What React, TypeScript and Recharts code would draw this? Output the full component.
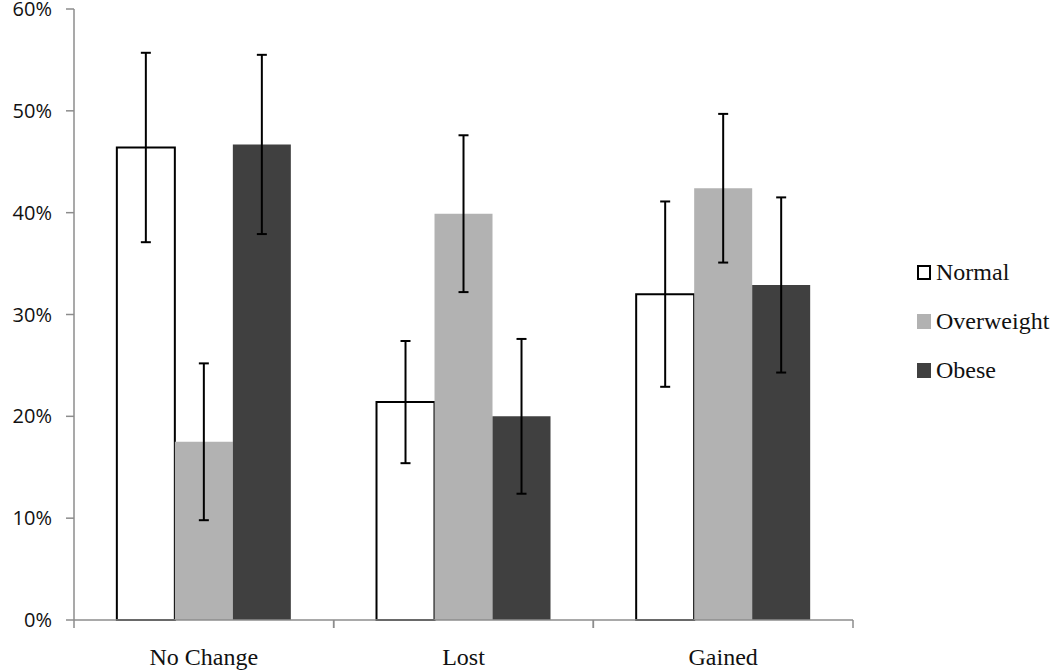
import React from "react";
import { BarChart, Bar, XAxis, YAxis, ErrorBar, Legend } from "recharts";

const categories = ["No Change", "Lost", "Gained"];
const normal = [46.4, 21.4, 32.0];
const normalErr = [9.3, 6.0, 9.1];
const overweight = [17.5, 39.9, 42.4];
const overweightErr = [7.7, 7.7, 7.3];
const obese = [46.7, 20.0, 32.9];
const obeseErr = [8.8, 7.6, 8.6];
const yTicks = [0, 10, 20, 30, 40, 50, 60];

const data = categories.map((c, i) => ({
  name: c,
  Normal: normal[i],
  NormalErr: normalErr[i],
  Overweight: overweight[i],
  OverweightErr: overweightErr[i],
  Obese: obese[i],
  ObeseErr: obeseErr[i],
}));

const AXIS = "#8c8c8c";

const XTick = (props: any) => {
  const { x, y, payload } = props;
  const off = payload && payload.offset ? payload.offset : 0;
  return (
    <g>
      <line x1={x - off} y1={y} x2={x - off} y2={y + 8} stroke={AXIS} strokeWidth={1.5} />
      <line x1={x + off} y1={y} x2={x + off} y2={y + 8} stroke={AXIS} strokeWidth={1.5} />
      <text
        x={x}
        y={y + 45}
        textAnchor="middle"
        fontFamily="'Liberation Serif', serif"
        fontSize={24}
        fill="#111"
      >
        {payload.value}
      </text>
    </g>
  );
};

const legendItems = [
  { name: "Normal", fill: "#ffffff", stroke: "#000" },
  { name: "Overweight", fill: "#b2b2b2", stroke: "#b2b2b2" },
  { name: "Obese", fill: "#404040", stroke: "#404040" },
];

const LegendContent = () => (
  <div style={{ fontFamily: "'Liberation Serif', serif", fontSize: 24, color: "#111" }}>
    {legendItems.map((it) => (
      <div key={it.name} style={{ display: "flex", alignItems: "center", height: 49 }}>
        <span
          style={{
            display: "inline-block",
            width: 10,
            height: 11,
            background: it.fill,
            border: `2px solid ${it.stroke}`,
            marginRight: 5,
          }}
        />
        <span>{it.name}</span>
      </div>
    ))}
  </div>
);

export default function App() {
  return (
    <div style={{ position: "absolute", left: 0, top: 0, width: 1050, height: 672, background: "#fff" }}>
      <BarChart
        width={1050}
        height={672}
        data={data}
        margin={{ top: 9, right: 57, bottom: 0, left: 0 }}
        barCategoryGap="16.5%"
        barGap={0}
      >
        <XAxis
          dataKey="name"
          height={52}
          tickSize={0}
          tickMargin={0}
          tickLine={false}
          axisLine={{ stroke: AXIS, strokeWidth: 1.5 }}
          tick={<XTick />}
          interval={0}
        />
        <YAxis
          width={74}
          domain={[0, 60]}
          ticks={yTicks}
          interval={0}
          tickSize={8}
          tickMargin={14}
          tickFormatter={(v: number) => `${v}%`}
          axisLine={{ stroke: AXIS, strokeWidth: 1.5 }}
          tickLine={{ stroke: AXIS, strokeWidth: 1.5 }}
          tick={{ fill: "#111", fontSize: 20, fontFamily: "'Open Sans', sans-serif" }}
        />
        <Legend
          layout="horizontal"
          verticalAlign="middle"
          align="right"
          content={<LegendContent />}
          wrapperStyle={{ left: 917, top: 248, width: 140 }}
        />
        <Bar dataKey="Normal" fill="#ffffff" stroke="#000" strokeWidth={2} isAnimationActive={false}>
          <ErrorBar dataKey="NormalErr" width={5} stroke="#000" strokeWidth={2} direction="y" />
        </Bar>
        <Bar dataKey="Overweight" fill="#b2b2b2" isAnimationActive={false}>
          <ErrorBar dataKey="OverweightErr" width={5} stroke="#000" strokeWidth={2} direction="y" />
        </Bar>
        <Bar dataKey="Obese" fill="#404040" isAnimationActive={false}>
          <ErrorBar dataKey="ObeseErr" width={5} stroke="#000" strokeWidth={2} direction="y" />
        </Bar>
      </BarChart>
    </div>
  );
}
